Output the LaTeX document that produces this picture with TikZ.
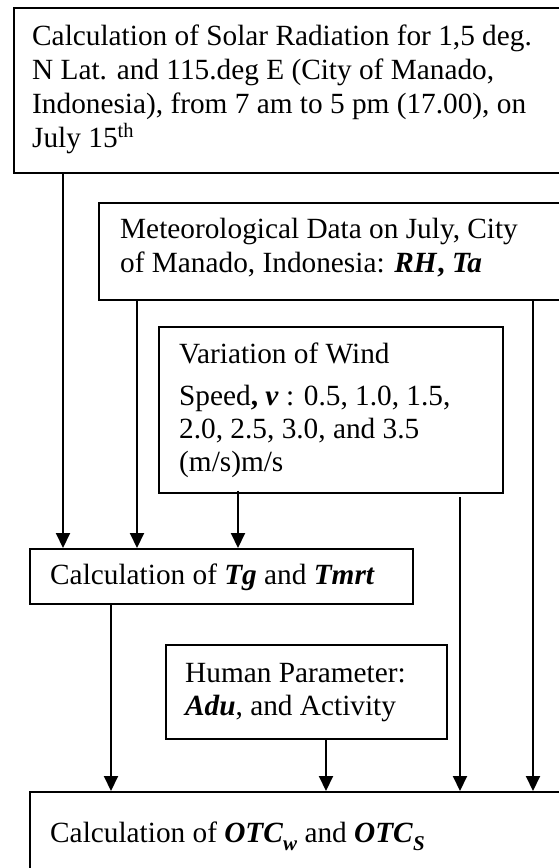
\documentclass[tikz,border=0pt]{standalone}
\usepackage{fontspec}
\setmainfont{Liberation Serif}
\usetikzlibrary{arrows.meta}
\newcommand{\bi}[1]{\textbf{\textit{#1}}}
\newcommand{\mysubs}[1]{\raisebox{-0.28em}{\fontsize{21}{21}\selectfont\bfseries\itshape #1}}
\tikzset{
  box/.style={draw, line width=1.5pt, inner sep=0pt, anchor=north west, rectangle},
  txt/.style={anchor=base west, inner sep=0pt, font=\fontsize{29.3}{34}\selectfont},
  arr/.style={line width=2pt, -{Triangle[width=14pt,length=15pt]}}
}
\begin{document}
\begin{tikzpicture}[x=1pt,y=-1pt]
\clip (0,0) rectangle (559,868);
\fill[white] (0,0) rectangle (559,868);
% boxes
\node[box, minimum width=570pt, minimum height=165pt] (b1) at (13,7) {};
\node[box, minimum width=480pt, minimum height=97pt] (b2) at (98,202) {};
\node[box, minimum width=344pt, minimum height=166pt] (bw) at (158,326) {};
\node[box, minimum width=383pt, minimum height=55pt] (tg) at (29,548) {};
\node[box, minimum width=281pt, minimum height=94pt] (hu) at (165,644) {};
\node[box, minimum width=560pt, minimum height=120pt] (otc) at (29,791) {};
% texts
\node[txt] (t1a) at (32,45) {Calculation of Solar Radiation for 1,5 deg.};
\node[txt] (t1b) at (32,79) {N Lat. and 115.deg E (City of Manado,};
\node[txt] (t1c) at (32,113) {Indonesia), from 7 am to 5 pm (17.00), on};
\node[txt] (t1d) at (32,147) {July 15\textsuperscript{th}};
\node[txt] (t2a) at (120,238) {Meteorological Data on July, City};
\node[txt] (t2b) at (120,272) {of Manado, Indonesia: \bi{RH}\textbf{,} \bi{Ta}};
\node[txt] (t3a) at (179,363) {Variation of Wind};
\node[txt] (t3b) at (179,405) {Speed\textbf{,} \bi{v} : 0.5, 1.0, 1.5,};
\node[txt] (t3c) at (179,438) {2.0, 2.5, 3.0, and 3.5};
\node[txt] (t3d) at (179,471) {(m/s)m/s};
\node[txt] (t4) at (50,584) {Calculation of \bi{Tg} and \bi{Tmrt}};
\node[txt] (t5a) at (185,682) {Human Parameter:};
\node[txt] (t5b) at (185,715) {\bi{Adu}, and Activity};
\node[txt] (t6) at (50,842) {Calculation of \bi{OTC}\mysubs{w} and \bi{OTC}\mysubs{S}};
% x positions of connectors
\coordinate (xa) at (63,0);
\coordinate (xb) at (137,0);
\coordinate (xc) at (238,0);
\coordinate (xd) at (111,0);
\coordinate (xe) at (326,0);
\coordinate (xf) at (460,0);
\coordinate (xg) at (533,0);
\coordinate (fstart) at (460,497);
% connectors
\draw[arr] (xa |- b1.south) -- (xa |- tg.north);
\draw[arr] (xb |- b2.south) -- (xb |- tg.north);
\draw[arr] ([yshift=3pt]xc |- bw.south) -- (xc |- tg.north);
\draw[arr] (xd |- tg.south) -- (xd |- otc.north);
\draw[arr] (xe |- hu.south) -- (xe |- otc.north);
\draw[arr] (fstart) -- (xf |- otc.north);
\draw[arr] (xg |- b2.south) -- (xg |- otc.north);
\end{tikzpicture}
\end{document}
